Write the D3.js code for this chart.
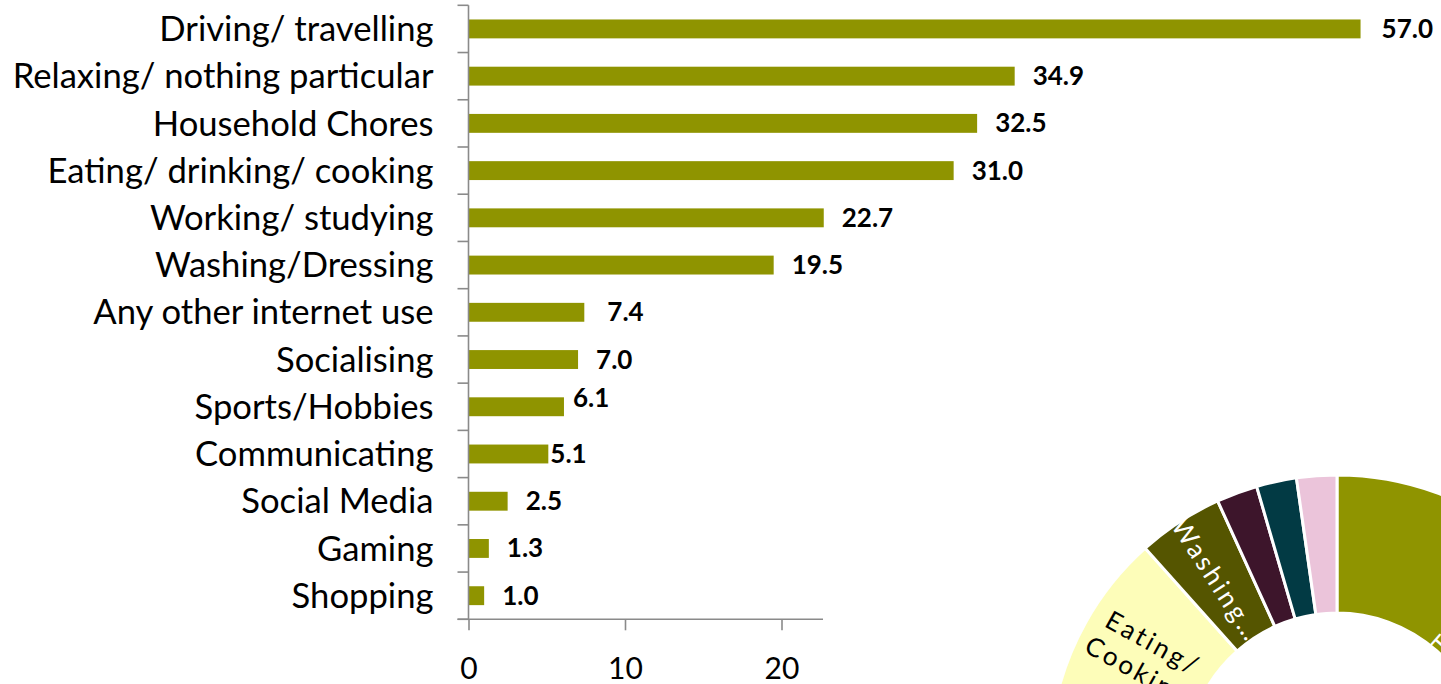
<!DOCTYPE html>
<html><head><meta charset="utf-8">
<script src="https://cdn.jsdelivr.net/npm/d3@7"></script>
<style>body{margin:0;background:#fff;} svg{display:block}</style>
</head><body>
<svg id="chart" width="1441" height="684"></svg>
<script>
// ---- data ----
const categories = ["Driving/ travelling","Relaxing/ nothing particular","Household Chores","Eating/ drinking/ cooking","Working/ studying","Washing/Dressing","Any other internet use","Socialising","Sports/Hobbies","Communicating","Social Media","Gaming","Shopping"];
const values = [57.0,34.9,32.5,31.0,22.7,19.5,7.4,7.0,6.1,5.1,2.5,1.3,1.0];
const xTicks = [0,10,20,30,40,50,60];
const donutLabels = ["Travelling","Other A","Other B","Eating/ Cooking","Washing…","Social","Internet","Media"];
const donutValues = [23.0, 27.6, 27.2, 10.6, 4.8, 2.3, 2.25, 2.25];

// ---- styles ----
const barColor = "#8f9400";
const axisColor = "#8a8a8a";
const donutColors = ["#8f9400","#b5b84a","#d7d78f","#fdfdb9","#555500","#3d152b","#023a44","#ebc4da"];
const donutTextColors = ["#ffffff","#ffffff","#000","#000000","#ffffff","#fff","#fff","#000"];
const showDonutLabel = [true,false,false,true,true,false,false,false];
const labelNudge = {"57.0":[3,0],"7.4":[5,0],"6.1":[-9,-9],"5.1":[-16,0]};

const svg = d3.select("#chart");

const x = d3.scaleLinear().domain([0,60]).range([468.5, 468.5 + 60*15.65]);
const y = d3.scaleBand().domain(categories).range([5.3, 619.3]).paddingInner(0.6).paddingOuter(0.3);
const step = y.step();
const y0 = y.range()[0], y1 = y.range()[1];

// bars
svg.append("g").selectAll("rect").data(values).join("rect")
  .attr("x", x(0))
  .attr("y", (d,i)=>y(categories[i]))
  .attr("width", d=>x(d)-x(0))
  .attr("height", y.bandwidth())
  .attr("fill", barColor);

// value labels
svg.append("g").selectAll("text").data(values).join("text")
  .attr("x", d=>x(d) + 18 + ((labelNudge[d.toFixed(1)]||[0,0])[0]))
  .attr("y", (d,i)=>y(categories[i]) + y.bandwidth()/2 - 1 + ((labelNudge[d.toFixed(1)]||[0,0])[1]))
  .attr("dominant-baseline","central")
  .attr("font-family","Lato, sans-serif")
  .attr("font-weight","700")
  .attr("font-size","26px")
  .attr("fill","#000")
  .text(d=>d.toFixed(1));

// y axis: labels
const yAxis = svg.append("g").attr("transform",`translate(${x(0)},0)`)
  .call(d3.axisLeft(y).tickSize(0).tickPadding(35));
yAxis.select(".domain").remove();
yAxis.selectAll("text")
  .attr("font-family","Lato, sans-serif")
  .attr("font-size","28px")
  .attr("fill","#000")
  .attr("dy","0.35em");
(function(){
  let maxW = 0;
  yAxis.selectAll("text").each(function(){ maxW = Math.max(maxW, this.getComputedTextLength()); });
  const fs = 28 * 421 / maxW;
  yAxis.selectAll("text").attr("font-size", fs + "px");
})();

// y axis line + boundary ticks
const yl = svg.append("g").attr("stroke",axisColor).attr("stroke-width",1.6);
yl.append("line").attr("x1",x(0)).attr("x2",x(0)).attr("y1",y0).attr("y2",y1);
yl.selectAll("line.t").data(d3.range(categories.length+1)).join("line").attr("class","t")
  .attr("x1",x(0)-11).attr("x2",x(0))
  .attr("y1",i=>y0+i*step).attr("y2",i=>y0+i*step);

// x axis
const xAxis = svg.append("g").attr("transform",`translate(0,${y1})`)
  .call(d3.axisBottom(x).tickValues(xTicks).tickSize(11).tickSizeOuter(0).tickPadding(27));
xAxis.select(".domain").remove();
xAxis.selectAll("line").attr("stroke",axisColor).attr("stroke-width",1.6);
xAxis.selectAll("text").attr("font-family","Lato, sans-serif").attr("font-size","30px").attr("fill","#000");
svg.append("line").attr("x1",x(0)-11).attr("x2",x(60)).attr("y1",y1).attr("y2",y1)
  .attr("stroke",axisColor).attr("stroke-width",1.6);

// ---- overlapping donut picture (white background) ----
const dg = svg.append("g");
dg.append("rect").attr("x",823).attr("y",470).attr("width",1441-823).attr("height",684-470).attr("fill","#fff");
const cx = 1337, cy = 763, R = 288, r = 150;
const pie = d3.pie().sort(null).value(d=>d).startAngle(0).endAngle(2*Math.PI);
const arcs = pie(donutValues);
const arc = d3.arc().innerRadius(r).outerRadius(R);
const dgi = dg.append("g").attr("transform",`translate(${cx},${cy})`);
dgi.selectAll("path").data(arcs).join("path")
  .attr("d",arc)
  .attr("fill",(d,i)=>donutColors[i])
  .attr("stroke","#fff").attr("stroke-width",3);

// radial labels
const lab = dgi.selectAll("g.lab").data(arcs.filter((d,i)=>showDonutLabel[i])).join("g").attr("class","lab")
  .attr("transform",d=>{
    const a = (d.startAngle+d.endAngle)/2;
    const rm = (r+R)/2;
    const px = rm*Math.sin(a), py = -rm*Math.cos(a);
    let deg = a*180/Math.PI - 90;
    if (a > Math.PI) deg = a*180/Math.PI - 270;
    return `translate(${px},${py}) rotate(${deg})`;
  });
lab.each(function(d){
  const g = d3.select(this);
  const lines = donutLabels[d.index].split(" ");
  const lh = 32;
  lines.forEach((t,k)=>{
    g.append("text")
      .attr("x",0).attr("y",(k-(lines.length-1)/2)*lh)
      .attr("text-anchor","middle").attr("dominant-baseline","central")
      .attr("font-family","Lato, sans-serif").attr("font-size","26px")
      .attr("letter-spacing","3px")
      .attr("fill",donutTextColors[d.index])
      .text(t);
  });
});
</script>
</body></html>
